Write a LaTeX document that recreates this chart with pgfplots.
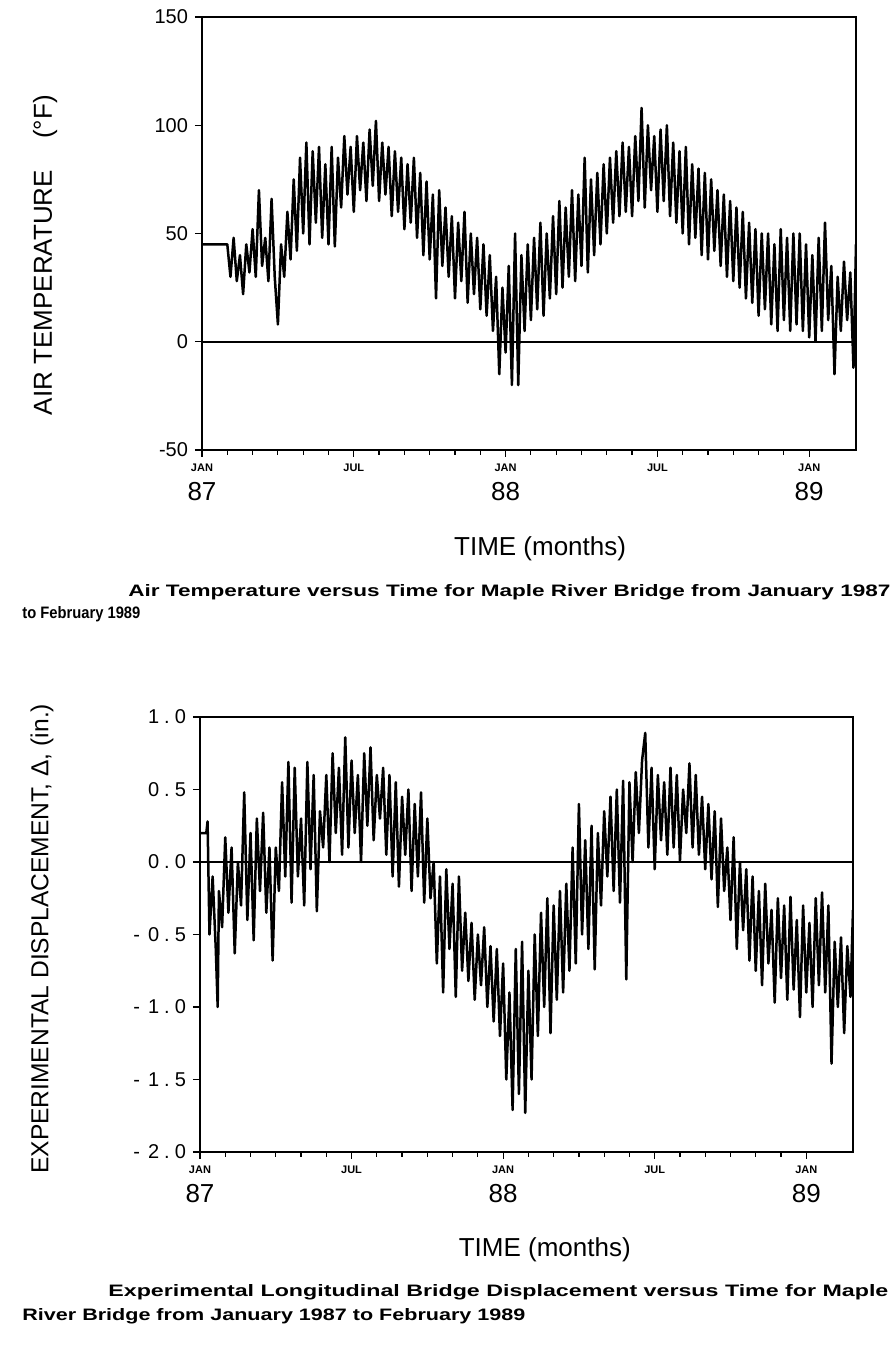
\documentclass[border=0pt]{standalone}
\usepackage{fontspec}
\setmainfont{Liberation Sans}
\usepackage{graphicx}
\usepackage{pgfplots}
\usepackage{pgfplotstable}
\pgfplotsset{compat=1.18}

\pgfplotstableread{
x y
0 45
1.0 45
1.125 30
1.25 48
1.375 28
1.5 40
1.625 22
1.75 45
1.875 32
2.0 52
2.125 30
2.25 70
2.375 35
2.5 48
2.625 28
2.75 66
2.875 30
3.0 8
3.125 45
3.25 30
3.375 60
3.5 38
3.625 75
3.75 42
3.875 85
4.0 50
4.125 92
4.25 45
4.375 88
4.5 55
4.625 90
4.75 48
4.875 82
5.0 45
5.125 90
5.25 44
5.375 85
5.5 62
5.625 95
5.75 68
5.875 90
6.0 60
6.125 95
6.25 70
6.375 92
6.5 65
6.625 98
6.75 72
6.875 102
7.0 65
7.125 92
7.25 68
7.375 90
7.5 58
7.625 88
7.75 60
7.875 85
8.0 52
8.125 82
8.25 55
8.375 85
8.5 48
8.625 78
8.75 40
8.875 74
9.0 38
9.125 68
9.25 20
9.375 70
9.5 35
9.625 62
9.75 30
9.875 58
10.0 20
10.125 55
10.25 28
10.375 60
10.5 18
10.625 50
10.75 22
10.875 48
11.0 15
11.125 45
11.25 12
11.375 40
11.5 5
11.625 30
11.75 -15
11.875 25
12.0 -5
12.125 35
12.25 -20
12.375 50
12.5 -20
12.625 40
12.75 5
12.875 45
13.0 10
13.125 48
13.25 15
13.375 55
13.5 12
13.625 50
13.75 20
13.875 58
14.0 22
14.125 65
14.25 25
14.375 62
14.5 30
14.625 70
14.75 28
14.875 68
15.0 35
15.125 85
15.25 32
15.375 75
15.5 40
15.625 78
15.75 45
15.875 82
16.0 50
16.125 85
16.25 55
16.375 88
16.5 58
16.625 92
16.75 60
16.875 90
17.0 58
17.125 95
17.25 65
17.375 108
17.5 62
17.625 100
17.75 70
17.875 95
18.0 60
18.125 98
18.25 65
18.375 100
18.5 58
18.625 92
18.75 55
18.875 88
19.0 50
19.125 90
19.25 45
19.375 82
19.5 48
19.625 80
19.75 40
19.875 78
20.0 38
20.125 75
20.25 42
20.375 70
20.5 35
20.625 68
20.75 30
20.875 65
21.0 28
21.125 62
21.25 25
21.375 60
21.5 20
21.625 55
21.75 18
21.875 52
22.0 12
22.125 50
22.25 15
22.375 50
22.5 8
22.625 45
22.75 5
22.875 52
23.0 10
23.125 48
23.25 5
23.375 50
23.5 8
23.625 50
23.75 5
23.875 45
24.0 2
24.125 40
24.25 0
24.375 48
24.5 5
24.625 55
24.75 10
24.875 35
25.0 -15
25.125 30
25.25 5
25.375 37
25.5 10
25.625 32
25.75 -12
25.85 45
}\temptable

\pgfplotstableread{
x y
0 0.2
0.25 0.2
0.3 0.28
0.375 -0.5
0.5 -0.1
0.625 -0.6
0.7 -1.0
0.75 -0.2
0.875 -0.45
1.0 0.17
1.125 -0.35
1.25 0.1
1.375 -0.63
1.5 0.0
1.625 -0.3
1.75 0.48
1.875 -0.4
2.0 0.2
2.125 -0.54
2.25 0.3
2.375 -0.2
2.5 0.34
2.625 -0.35
2.75 0.1
2.875 -0.68
3.0 0.1
3.125 -0.2
3.25 0.55
3.375 -0.1
3.5 0.69
3.625 -0.28
3.75 0.65
3.875 -0.1
4.0 0.3
4.125 -0.3
4.25 0.69
4.375 -0.05
4.5 0.6
4.625 -0.34
4.75 0.35
4.875 0.1
5.0 0.6
5.125 0.0
5.25 0.75
5.375 0.2
5.5 0.65
5.625 0.05
5.75 0.86
5.875 0.1
6.0 0.7
6.125 0.2
6.25 0.6
6.375 0.0
6.5 0.75
6.625 0.25
6.75 0.79
6.875 0.15
7.0 0.6
7.125 0.3
7.25 0.65
7.375 0.05
7.5 0.6
7.625 -0.1
7.75 0.55
7.875 -0.17
8.0 0.45
8.125 0.05
8.25 0.5
8.375 -0.2
8.5 0.4
8.625 -0.1
8.75 0.48
8.875 -0.28
9.0 0.3
9.125 -0.25
9.25 0.0
9.375 -0.7
9.5 -0.1
9.625 -0.9
9.75 -0.05
9.875 -0.6
10.0 -0.15
10.125 -0.93
10.25 -0.1
10.375 -0.75
10.5 -0.35
10.625 -0.82
10.75 -0.42
10.875 -0.95
11.0 -0.5
11.125 -0.85
11.25 -0.45
11.375 -1.0
11.5 -0.58
11.625 -1.1
11.75 -0.6
11.875 -1.2
12.0 -0.7
12.125 -1.5
12.25 -0.9
12.375 -1.71
12.5 -0.6
12.625 -1.6
12.75 -0.55
12.875 -1.73
13.0 -0.75
13.125 -1.5
13.25 -0.5
13.375 -1.2
13.5 -0.35
13.625 -1.0
13.75 -0.25
13.875 -1.18
14.0 -0.3
14.125 -0.95
14.25 -0.2
14.375 -0.9
14.5 -0.15
14.625 -0.75
14.75 0.1
14.875 -0.7
15.0 0.4
15.125 -0.5
15.25 0.15
15.375 -0.6
15.5 0.25
15.625 -0.74
15.75 0.2
15.875 -0.3
16.0 0.35
16.125 -0.1
16.25 0.45
16.375 -0.2
16.5 0.5
16.625 -0.28
16.75 0.56
16.875 -0.81
17.0 0.55
17.125 0.0
17.25 0.62
17.375 0.2
17.5 0.7
17.625 0.89
17.75 0.1
17.875 0.65
18.0 -0.05
18.125 0.6
18.25 0.15
18.375 0.55
18.5 0.05
18.625 0.65
18.75 0.1
18.875 0.6
19.0 0.01
19.125 0.5
19.25 0.2
19.375 0.68
19.5 0.1
19.625 0.6
19.75 0.05
19.875 0.45
20.0 -0.05
20.125 0.4
20.25 -0.12
20.375 0.35
20.5 -0.31
20.625 0.3
20.75 -0.2
20.875 0.1
21.0 -0.4
21.125 0.17
21.25 -0.6
21.375 0.0
21.5 -0.47
21.625 -0.05
21.75 -0.68
21.875 -0.1
22.0 -0.75
22.125 -0.2
22.25 -0.85
22.375 -0.15
22.5 -0.7
22.625 -0.33
22.75 -0.97
22.875 -0.25
23.0 -0.8
23.125 -0.3
23.25 -0.95
23.375 -0.24
23.5 -0.88
23.625 -0.4
23.75 -1.07
23.875 -0.3
24.0 -0.9
24.125 -0.42
24.25 -1.0
24.375 -0.25
24.5 -0.85
24.625 -0.21
24.75 -0.9
24.875 -0.3
25.0 -1.39
25.125 -0.55
25.25 -1.0
25.375 -0.52
25.5 -1.18
25.625 -0.58
25.75 -0.93
25.85 -0.33
}\disptable

\newcommand{\yr}[1]{{\fontsize{13}{14}\selectfont\mdseries #1}}
\pgfplotsset{
  myax/.style={
    scale only axis,
    axis line style={line width=1pt},
    xmin=0, xmax=25.85,
    xtick={0,6,12,18,24},
    xticklabels={JAN,JUL,JAN,JUL,JAN},
    minor x tick num=5,
    tick align=outside,
    xtick pos=bottom, ytick pos=left,
    major tick length=3.5pt, minor tick length=2.5pt,
    every tick/.style={black, line width=0.6pt},
    x tick label style={font=\fontsize{5.5}{6}\selectfont\bfseries},
    y tick label style={font=\fontsize{10}{12}\selectfont},
    extra x ticks={0,12,24},
    extra x tick labels={\yr{87},\yr{88},\yr{89}},
    extra x tick style={major tick length=0pt,
      tick label style={yshift=-12.5pt}},
    xlabel={TIME (months)},
    xlabel style={font=\fontsize{13}{15}\selectfont, anchor=center},
    ylabel style={anchor=center},
  }
}
\newcommand{\gp}{\hspace{2.5pt}}

\begin{document}
\begin{tikzpicture}
\useasboundingbox (0,0) rectangle (446.5pt,678pt);

% Top: air temperature
\begin{axis}[myax,
  at={(101pt,453pt)}, anchor=south west,
  width=327pt, height=216.5pt,
  ymin=-50, ymax=150,
  ytick={-50,0,50,100,150},
  yticklabels={-50,0,50,100,150},
  xlabel style={at={(axis description cs:0.517,-0.229)}},
  ylabel={AIR TEMPERATURE\hspace{1.2em}(°F)},
  ylabel style={font=\fontsize{13}{15}\selectfont, at={(axis description cs:-0.24,0.45)}},
]
\addplot[black, line width=1.25pt, line join=round] table {\temptable};
\addplot[black, line width=0.8pt] coordinates {(0,0) (25.85,0)};
\end{axis}

% Bottom: displacement
\begin{axis}[myax,
  at={(100pt,102pt)}, anchor=south west,
  width=326.5pt, height=217.5pt,
  ymin=-2, ymax=1,
  ytick={-2,-1.5,-1,-0.5,0,0.5,1},
  yticklabels={-\hspace{4pt}2\gp.\gp0,-\hspace{4pt}1\gp.\gp5,-\hspace{4pt}1\gp.\gp0,-\hspace{4pt}0\gp.\gp5,0\gp.\gp0,0\gp.\gp5,1\gp.\gp0},
  xlabel style={at={(axis description cs:0.528,-0.225)}},
  ylabel={EXPERIMENTAL DISPLACEMENT, Δ, (in.)},
  ylabel style={font=\fontsize{12.3}{14}\selectfont, at={(axis description cs:-0.242,0.49)}},
]
\addplot[black, line width=1.25pt, line join=round] table {\disptable};
\addplot[black, line width=0.8pt] coordinates {(0,0) (25.85,0)};
\end{axis}

% Captions
\node[anchor=base west, inner sep=0] at (64pt,379.5pt)
  {\resizebox{381pt}{6pt}{\bfseries Air Temperature versus Time for Maple River Bridge from January 1987}};
\node[anchor=base west, inner sep=0] at (11pt,368.5pt)
  {\resizebox{59pt}{6pt}{\bfseries to February 1989}};
\node[anchor=base west, inner sep=0] at (54pt,29.5pt)
  {\resizebox{390pt}{6pt}{\bfseries Experimental Longitudinal Bridge Displacement versus Time for Maple}};
\node[anchor=base west, inner sep=0] at (11pt,17.5pt)
  {\resizebox{251.5pt}{6pt}{\bfseries River Bridge from January 1987 to February 1989}};
\end{tikzpicture}
\end{document}
